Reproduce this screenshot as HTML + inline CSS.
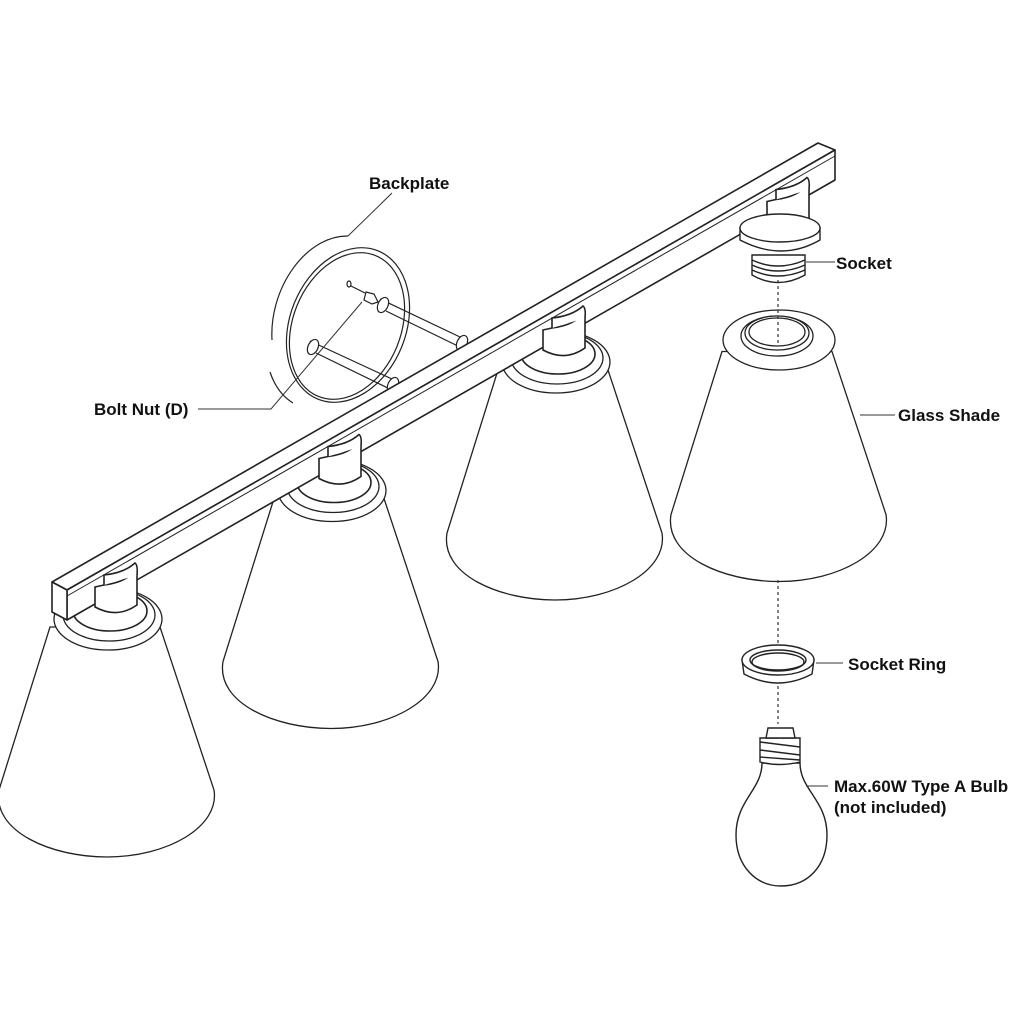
<!DOCTYPE html>
<html><head><meta charset="utf-8"><style>
html,body{margin:0;padding:0;background:#fff;}
svg{display:block;}
text{font-family:"Liberation Sans",Arial,sans-serif;font-weight:bold;font-size:17px;fill:#111;}
</style></head><body>
<svg width="1024" height="1024" viewBox="0 0 1024 1024" xmlns="http://www.w3.org/2000/svg">
<defs>
  <g id="shade">
    <path d="M498,370 L447,533 C440,575 500,600 555,600 C615,600 668,570 662,533 L608,370 Z" fill="#fff" stroke="#222" stroke-width="1.3"/>
  </g>
  <g id="collar">
    <ellipse cx="556" cy="362" rx="54" ry="31" fill="#fff" stroke="#222" stroke-width="1.3"/>
    <ellipse cx="557" cy="358" rx="46" ry="26" fill="#fff" stroke="#222" stroke-width="1.3"/>
    <ellipse cx="558" cy="354" rx="37" ry="20" fill="#fff" stroke="#222" stroke-width="1.6"/>
  </g>
  <g id="mount">
    <path d="M543,350 L543,330 L552,328 Q576,325 583,312 L585,318 L585,348 Q565,362 543,350 Z" fill="#fff" stroke="#222" stroke-width="1.6"/>
    <path d="M552,328 L552,318 Q572,316 583,306 Q586,308 585,318" fill="#fff" stroke="#222" stroke-width="1.6"/>
  </g>
</defs>

<!-- backplate -->
<g fill="none" stroke="#222" stroke-width="1.2">
  <path d="M348,236 A60,84 18 0 0 272,340" />
  <path d="M270,372 A60,84 18 0 0 293,403" />
  <ellipse cx="348" cy="325" rx="58" ry="80" transform="rotate(22 348 325)" fill="#fff"/>
  <ellipse cx="347" cy="326" rx="54" ry="76" transform="rotate(22 347 326)"/>
  <path d="M310,341 L392,379 M316,353 L396,392" />
  <ellipse cx="313" cy="347" rx="5" ry="8" transform="rotate(25 313 347)" fill="#fff"/>
  <ellipse cx="393" cy="385" rx="5" ry="8" transform="rotate(25 393 385)" fill="#fff"/>
  <path d="M380,299 L460,337 M386,311 L464,349" />
  <ellipse cx="383" cy="305" rx="5" ry="8" transform="rotate(25 383 305)" fill="#fff"/>
  <ellipse cx="462" cy="343" rx="5" ry="8" transform="rotate(25 462 343)" fill="#fff"/>
  <path d="M366,292 L374,294 L378,302 L372,304 L364,300 Z" fill="#fff"/>
  <ellipse cx="349" cy="284" rx="2" ry="3"/>
  <line x1="351" y1="286" x2="365" y2="293"/>
</g>

<use href="#shade" transform="translate(224,-18.5)"/>
<use href="#shade"/>
<use href="#collar"/>
<use href="#shade" transform="translate(-224,128.5)"/>
<use href="#collar" transform="translate(-224,128.5)"/>
<use href="#shade" transform="translate(-448,257)"/>
<use href="#collar" transform="translate(-448,257)"/>

<g stroke="#222" stroke-width="1.3" fill="#fff">
  <ellipse cx="779" cy="340" rx="56" ry="30"/>
  <ellipse cx="777" cy="336" rx="36" ry="20"/>
  <ellipse cx="777" cy="333" rx="32" ry="17"/>
  <ellipse cx="777" cy="332" rx="28" ry="14"/>
</g>

<g stroke="#222" stroke-width="1.6" fill="#fff" stroke-linejoin="round">
  <polygon points="52,582 818,143 835,150 67,590"/>
  <polygon points="67,590 835,150 835,180 67,620"/>
  <polygon points="52,582 67,590 67,620 52,612"/>
  <line x1="67" y1="596" x2="835" y2="156" stroke-width="1"/>
</g>

<use href="#mount"/>
<use href="#mount" transform="translate(-224,128.5)"/>
<use href="#mount" transform="translate(-448,257)"/>
<use href="#mount" transform="translate(224,-128.5)"/>

<g stroke="#222" stroke-width="1.4" fill="#fff">
  <path d="M752,255 L752,275 Q778,290 805,275 L805,255 Z"/>
  <path d="M752,260 Q778,272 805,260 M752,265 Q778,277 805,265 M752,270 Q778,282 805,270" fill="none"/>
  <path d="M740,228 L740,240 Q782,262 820,240 L820,228 Z"/>
  <ellipse cx="780" cy="228" rx="40" ry="14"/>
</g>

<g stroke="#333" stroke-width="1.2" stroke-dasharray="3,3">
  <line x1="778" y1="280" x2="778" y2="345"/>
  <line x1="778" y1="580" x2="778" y2="648"/>
  <line x1="778" y1="686" x2="778" y2="724"/>
</g>

<g stroke="#222" stroke-width="1.4" fill="#fff">
  <path d="M742,660 L744,674 Q778,692 812,674 L814,660 Z"/>
  <ellipse cx="778" cy="660" rx="36" ry="15"/>
  <ellipse cx="778" cy="660" rx="28" ry="10" fill="none"/>
  <ellipse cx="778" cy="662" rx="26" ry="9" fill="none"/>
</g>

<g stroke="#222" stroke-width="1.4" fill="#fff">
  <path d="M762,763 C762,790 736,800 736,835 C736,866 756,886 781,886 C808,886 827,866 827,835 C827,800 800,790 800,763 Z"/>
  <path d="M760,738 L760,762 Q780,767 800,762 L800,738 Z"/>
  <path d="M768,728 L766,738 L795,738 L793,728 Z"/>
  <path d="M760,742 L800,747 M760,750 L800,755 M760,757 L800,760" fill="none"/>
</g>

<g stroke="#333" stroke-width="1" fill="none">
  <polyline points="392,193 348,236"/>
  <polyline points="198,409 271,409 362,302"/>
  <line x1="806" y1="262" x2="835" y2="262"/>
  <line x1="860" y1="415" x2="895" y2="415"/>
  <line x1="816" y1="663" x2="843" y2="663"/>
  <line x1="806" y1="786" x2="828" y2="786"/>
</g>

<text x="369" y="189">Backplate</text>
<text x="836" y="269">Socket</text>
<text x="898" y="421">Glass Shade</text>
<text x="94" y="415">Bolt Nut (D)</text>
<text x="848" y="670">Socket Ring</text>
<text x="834" y="792">Max.60W Type A Bulb</text>
<text x="834" y="813">(not included)</text>
</svg>
</body></html>
